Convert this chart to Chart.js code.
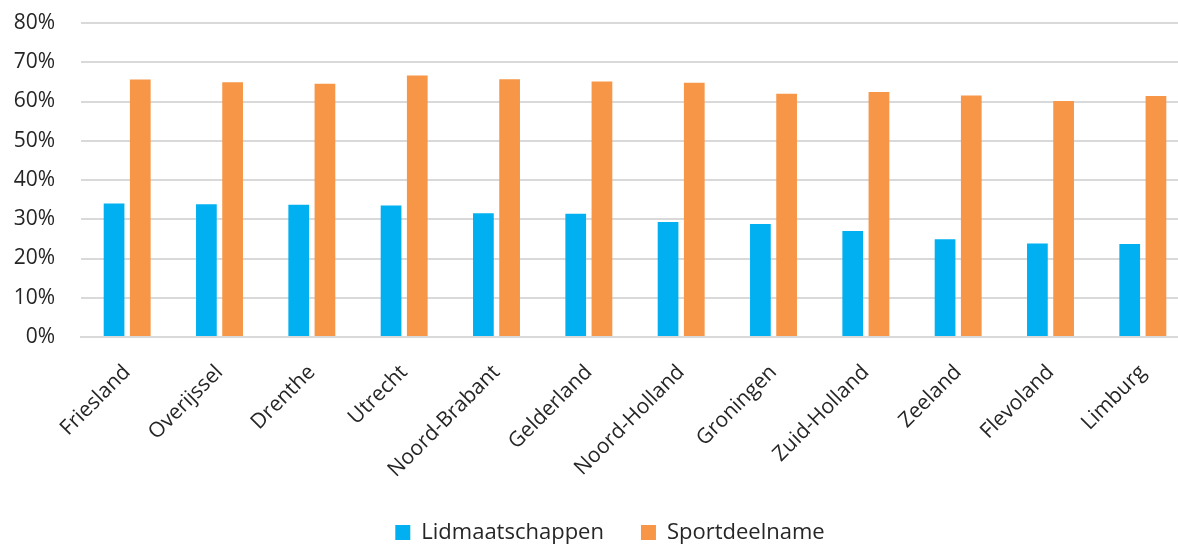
<!DOCTYPE html>
<html>
<head>
<meta charset="utf-8">
<script src="https://cdn.jsdelivr.net/npm/chart.js@4/dist/chart.umd.min.js"></script>
<style>
  html, body { margin: 0; padding: 0; background: #fff; overflow: hidden; }
  #wrap { position: relative; width: 1220px; height: 544px; }
</style>
</head>
<body>
<div id="wrap"><canvas id="c"></canvas></div>
<script>
const categories = ["Friesland", "Overijssel", "Drenthe", "Utrecht", "Noord-Brabant", "Gelderland",
  "Noord-Holland", "Groningen", "Zuid-Holland", "Zeeland", "Flevoland", "Limburg"];
const lidmaatschappen = [0.340, 0.338, 0.337, 0.335, 0.315, 0.314, 0.293, 0.288, 0.270, 0.249, 0.238, 0.237];
const sportdeelname   = [0.656, 0.649, 0.645, 0.666, 0.657, 0.651, 0.648, 0.620, 0.624, 0.615, 0.601, 0.614];
const seriesNames = ["Lidmaatschappen", "Sportdeelname"];
const yTicks = [0, 0.1, 0.2, 0.3, 0.4, 0.5, 0.6, 0.7, 0.8];

const FONT = "'Open Sans', 'Noto Sans', sans-serif";
const TEXT = "#262626";

const legendHeightFix = {
  id: 'legendHeightFix',
  afterInit(chart) {
    const lg = chart.legend;
    if (!lg) return;
    const orig = lg.fit.bind(lg);
    lg.fit = function () { orig(); this.height = 59.5; };
  }
};

new Chart(document.getElementById('c'), {
  type: 'bar',
  data: {
    labels: categories,
    datasets: [
      { label: seriesNames[0], data: lidmaatschappen, backgroundColor: '#00B0F0',
        categoryPercentage: 0.568, barPercentage: 0.79 },
      { label: seriesNames[1], data: sportdeelname, backgroundColor: '#F79646',
        categoryPercentage: 0.568, barPercentage: 0.79 }
    ]
  },
  plugins: [legendHeightFix],
  options: {
    responsive: true,
    maintainAspectRatio: false,
    animation: false,
    layout: { padding: { top: 23, right: 0, bottom: 0, left: 0 } },
    plugins: {
      tooltip: { enabled: false },
      legend: {
        position: 'bottom',
        labels: {
          boxWidth: 15, boxHeight: 15, padding: 37,
          color: TEXT,
          font: { family: FONT, size: 22 }
        }
      }
    },
    scales: {
      x: {
        grid: { display: false, drawTicks: false },
        border: { display: true, color: '#d9d9d9', width: 2 },
        ticks: {
          color: TEXT, padding: 23, minRotation: 45, maxRotation: 45,
          font: { family: FONT, size: 21 }
        },
        afterFit: (s) => { s.height = 147.5; s.paddingRight = 31; }
      },
      y: {
        min: 0, max: 0.8,
        afterBuildTicks: (s) => { s.ticks = yTicks.map(v => ({ value: v })); },
        grid: { color: '#d9d9d9', lineWidth: 2, drawTicks: false },
        border: { display: false },
        ticks: {
          color: TEXT, padding: 26,
          font: { family: FONT, size: 21 },
          callback: (v) => Math.round(v * 100) + '%'
        },
        afterFit: (s) => { s.width = 81; s.paddingTop = 0; s.paddingBottom = 0; }
      }
    }
  }
});
</script>
</body>
</html>
